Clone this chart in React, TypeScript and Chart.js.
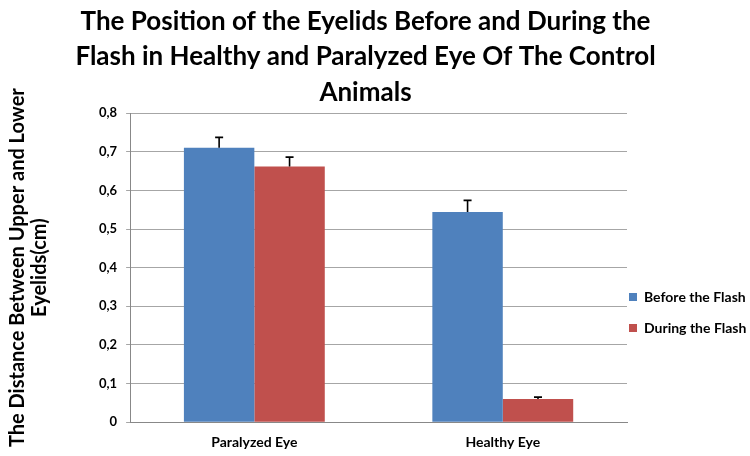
import React, { useEffect, useRef } from "react";
import { Chart, registerables } from "chart.js";

Chart.register(...registerables);

const categories = ["Paralyzed Eye", "Healthy Eye"];
const beforeValues = [0.71, 0.544];
const duringValues = [0.662, 0.06];
const beforeErrors = [0.027, 0.03];
const duringErrors = [0.024, 0.005];
const seriesNames = ["Before the Flash", "During the Flash"];
const titleLines = [
  "The Position of the Eyelids Before and During the",
  "Flash in Healthy and Paralyzed Eye Of The Control",
  "Animals",
];
const yTitleLines = ["The Distance Between Upper and Lower", "Eyelids(cm)"];

const FONT = "Lato, 'Open Sans', sans-serif";
const LEGEND_PAD = 17;

const layoutTweaks = {
  id: "layoutTweaks",
  beforeLayout(chart: any) {
    const lg = chart.legend;
    if (lg && !lg.__patched) {
      const orig = lg.fit.bind(lg);
      lg.fit = function () {
        orig();
        this.width = 123;
      };
      lg.__patched = true;
    }
  },
  afterLayout(chart: any) {
    const tb = chart.titleBlock;
    if (tb) tb.right = tb.right - 26;
    const lg = chart.legend;
    if (lg) {
      lg.left -= LEGEND_PAD - 2;
    }
  },
};

const errorBarPlugin = {
  id: "errorBars",
  afterDatasetsDraw(chart: any) {
    const ctx = chart.ctx;
    const yScale = chart.scales.y;
    const errs = [beforeErrors, duringErrors];
    chart.data.datasets.forEach((ds: any, di: number) => {
      const meta = chart.getDatasetMeta(di);
      meta.data.forEach((bar: any, i: number) => {
        const v = ds.data[i];
        const top = yScale.getPixelForValue(v + errs[di][i]);
        const base = yScale.getPixelForValue(v);
        ctx.save();
        ctx.strokeStyle = "#000";
        ctx.lineWidth = 1.6;
        ctx.beginPath();
        ctx.moveTo(bar.x, base);
        ctx.lineTo(bar.x, top);
        ctx.moveTo(bar.x - 4, top);
        ctx.lineTo(bar.x + 4, top);
        ctx.stroke();
        ctx.restore();
      });
    });
  },
};

export default function App() {
  const ref = useRef<HTMLCanvasElement>(null);
  useEffect(() => {
    document.body.style.margin = "0";
    const chart = new Chart(ref.current!, {
      type: "bar",
      data: {
        labels: categories,
        datasets: [
          { label: seriesNames[0], data: beforeValues, backgroundColor: "#4F81BD" },
          { label: seriesNames[1], data: duringValues, backgroundColor: "#C0504D" },
        ],
      },
      options: {
        animation: false,
        responsive: false,
        maintainAspectRatio: false,
        layout: { padding: { left: 7, right: 0, top: 0, bottom: -7 } },
        datasets: { bar: { barPercentage: 1, categoryPercentage: 0.567 } },
        plugins: {
          title: {
            display: true,
            text: titleLines,
            color: "#000",
            font: { family: FONT, size: 26, weight: "bold", lineHeight: 1.36 },
            padding: { top: 4, bottom: 3 },
          },
          legend: {
            position: "right",
            title: {
              display: true,
              text: "",
              font: { size: 1, lineHeight: 1 },
              padding: { top: 161, bottom: 0 },
            },
            labels: {
              boxWidth: 8,
              boxHeight: 8,
              padding: LEGEND_PAD,
              color: "#000",
              font: { family: FONT, size: 14, weight: "bold" },
            },
          },
          tooltip: { enabled: false },
        },
        scales: {
          x: {
            grid: { display: false, drawTicks: false, tickLength: 0 },
            border: { color: "#888" },
            ticks: { color: "#000", font: { family: FONT, size: 14, weight: "bold" }, padding: 12 },
          },
          y: {
            min: 0,
            max: 0.8,
            ticks: {
              stepSize: 0.1,
              color: "#000",
              padding: 9,
              font: { family: FONT, size: 13, weight: "bold" },
              callback: (v: any) => (Number(v) === 0 ? "0" : Number(v).toFixed(1).replace(".", ",")),
            },
            grid: { color: "#A6A6A6", tickLength: 4 },
            border: { color: "#888" },
            title: {
              display: true,
              text: yTitleLines,
              color: "#000",
              font: { family: FONT, size: 20, weight: "bold", lineHeight: 1.1 },
              padding: { top: 0, bottom: 39 },
            },
          },
        },
      },
      plugins: [layoutTweaks, errorBarPlugin],
    });
    return () => chart.destroy();
  }, []);
  return (
    <div style={{ width: 750, height: 456, background: "#fff" }}>
      <canvas ref={ref} width={750} height={456} style={{ display: "block" }} />
    </div>
  );
}
